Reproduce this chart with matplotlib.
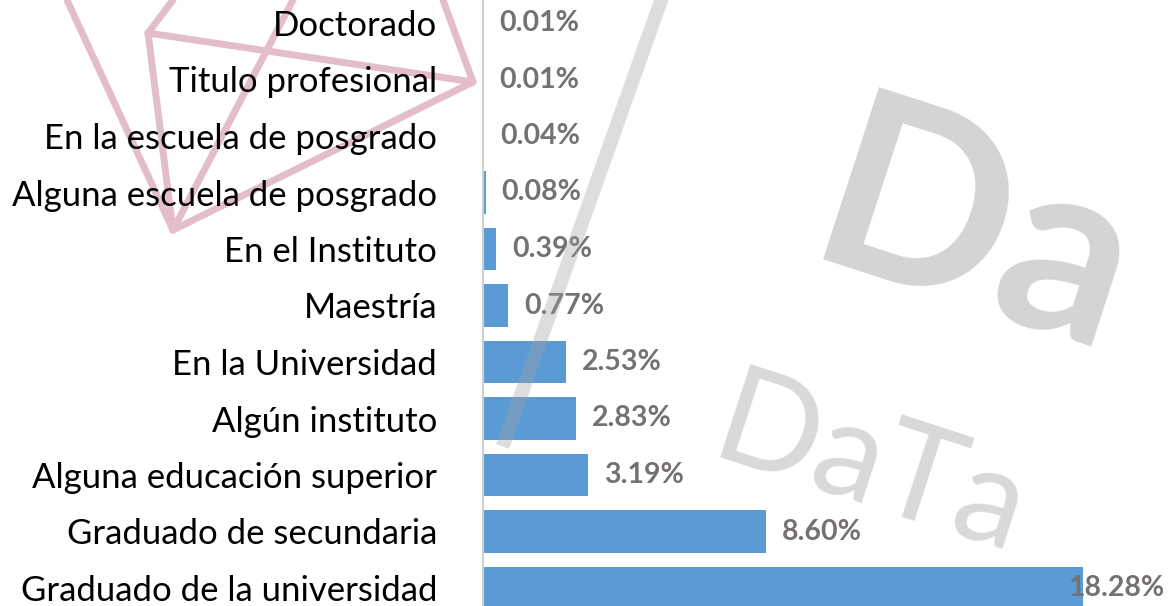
import matplotlib
matplotlib.use('Agg')
import matplotlib.pyplot as plt

categorias = ['Doctorado', 'Titulo profesional', 'En la escuela de posgrado',
              'Alguna escuela de posgrado', 'En el Instituto', 'Maestría',
              'En la Universidad', 'Algún instituto', 'Alguna educación superior',
              'Graduado de secundaria', 'Graduado de la universidad']
porcentajes = [0.01, 0.01, 0.04, 0.08, 0.39, 0.77, 2.53, 2.83, 3.19, 8.60, 18.28]

plt.rcParams['font.family'] = ['Lato', 'DejaVu Sans']

W, H = 1168, 606
fig = plt.figure(figsize=(W / 100, H / 100), dpi=100)
fig.patch.set_facecolor('white')

# axes placed so the rows land where they are in the reference
ax = fig.add_axes([483 / W, 0, (W - 483) / W, 1])
ax.patch.set_alpha(0)
pos = list(range(len(categorias)))
ax.barh(pos, porcentajes, height=0.76, color='#5B9BD5', zorder=2)
ax.set_xlim(0, (W - 483) / 32.85)
ax.set_ylim((H - 23) / 56.5, -23 / 56.5)

ax.set_yticks(pos)
ax.set_yticklabels(categorias, fontsize=25, color='black')
ax.tick_params(axis='y', length=0, pad=33)
ax.set_xticks([])
for s in ['top', 'right', 'bottom']:
    ax.spines[s].set_visible(False)
ax.spines['left'].set_color('#D0D0D0')
ax.spines['left'].set_linewidth(1.5)

xmax = ax.get_xlim()[1]
for y, v in zip(pos, porcentajes):
    txt = '%.2f%%' % v
    if v > xmax * 0.8:
        ax.text(xmax - 0.12, y, txt, ha='right', va='center', fontsize=20.5,
                fontweight='bold', color='#767171', zorder=3)
    else:
        ax.annotate(txt, (v, y), xytext=(11.5, 0), textcoords='offset points',
                    ha='left', va='center', fontsize=20.5, fontweight='bold',
                    color='#767171', zorder=3)

# watermark (pixel coords, y from top)
def px(x, y):
    return x / W, 1 - y / H

pink = [((67, 0), (173, 230)), ((148, 33), (473, 82)), ((148, 33), (173, 230)),
        ((173, 230), (473, 82)), ((148, 33), (173, 0)), ((473, 82), (443, 0)),
        ((173, 230), (293, 0))]
for (x0, y0), (x1, y1) in pink:
    a, b = px(x0, y0)
    c, d = px(x1, y1)
    fig.add_artist(plt.Line2D([a, c], [b, d], color='#E3BDC9', lw=5,
                              solid_capstyle='round', zorder=-1))

a, b = px(663, -5)
c, d = px(505, 440)
fig.add_artist(plt.Line2D([a, c], [b, d], color='#A0A0A0', lw=10, alpha=0.35, zorder=10))

fig.text(*px(790, 240), 'Da', fontsize=180, color='#A0A0A0', alpha=0.45,
         rotation=-18, ha='left', va='center', zorder=10, fontweight='bold')
fig.text(*px(700, 470), 'DaTa', fontsize=98, color='#A0A0A0', alpha=0.4,
         rotation=-18, ha='left', va='center', zorder=10, fontweight='normal')

fig.savefig('out.png', dpi=100, facecolor='white')
